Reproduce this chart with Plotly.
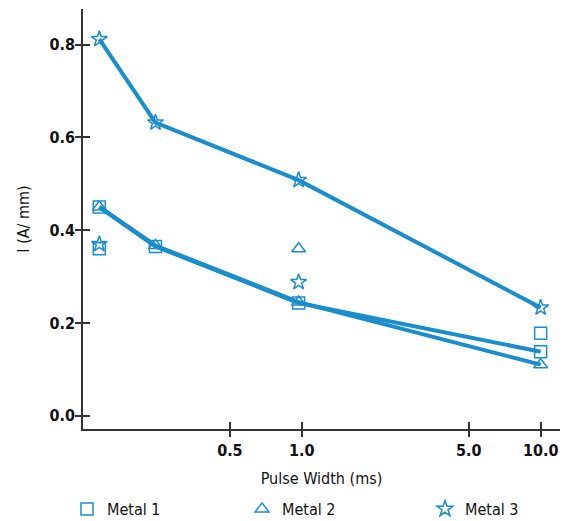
import plotly.graph_objects as go

# Data (pulse width in ms, current in A/mm)
pulse_width = [0.142, 0.244, 0.97, 10.0]
metal1_line = [0.45, 0.365, 0.243, 0.138]
metal2_line = [0.45, 0.367, 0.245, 0.110]
metal3_line = [0.812, 0.632, 0.508, 0.233]

# Extra scattered measurements
metal1_extra_x = [0.142, 10.0]
metal1_extra_y = [0.360, 0.178]
metal2_extra_x = [0.97]
metal2_extra_y = [0.360]
metal3_extra_x = [0.142, 0.97]
metal3_extra_y = [0.370, 0.288]

x_tickvals = [0.5, 1.0, 5.0, 10.0]
x_ticktext = ["0.5", "1.0", "5.0", "10.0"]
y_tickvals = [0.0, 0.2, 0.4, 0.6, 0.8]
y_ticktext = ["0.0", "0.2", "0.4", "0.6", "0.8"]

BLUE = "#1a8dcc"
AXIS = "#333333"
FONT = "DejaVu Sans Condensed, Roboto, sans-serif"

fig = go.Figure()

series = [
    ("Metal 1", metal1_line, metal1_extra_x, metal1_extra_y, "square-open", "legend"),
    ("Metal 2", metal2_line, metal2_extra_x, metal2_extra_y, "triangle-up-open", "legend2"),
    ("Metal 3", metal3_line, metal3_extra_x, metal3_extra_y, "star-open", "legend3"),
]

for name, ys, ex, ey, sym, lg in series:
    fig.add_trace(go.Scatter(
        x=pulse_width, y=ys, mode="lines",
        line=dict(color=BLUE, width=4), showlegend=False, hoverinfo="skip"))

for name, ys, ex, ey, sym, lg in series:
    fig.add_trace(go.Scatter(
        x=pulse_width + ex, y=ys + ey, mode="markers", name=name, legend=lg,
        marker=dict(symbol=sym, size=12, color=BLUE, line=dict(color=BLUE, width=1.5))))

# empty trace to host the overlay axes (inside half of crossing ticks)
fig.add_trace(go.Scatter(x=[], y=[], xaxis="x2", yaxis="y2", showlegend=False))

xr = [-0.916, 1.081]
yr = [-0.0287, 0.877]

def legend_at(px):
    return dict(orientation="h", xref="container", yref="container",
                x=px / 566, xanchor="left", y=(521 - 492) / 521, yanchor="top",
                itemwidth=30, font=dict(family=FONT, size=16, color="#111111"),
                bgcolor="rgba(0,0,0,0)")

fig.update_layout(
    width=566, height=521,
    margin=dict(l=83, r=6, t=9, b=92, autoexpand=False),
    paper_bgcolor="white", plot_bgcolor="white",
    font=dict(family=FONT, size=16, color="#111111"),
    xaxis=dict(type="log", range=xr, tickvals=x_tickvals, ticktext=x_ticktext,
               showgrid=False, zeroline=False, showline=True, linecolor=AXIS, linewidth=1.5,
               ticks="outside", ticklen=6, tickwidth=1.5, tickcolor=AXIS,
               tickfont=dict(family=FONT, size=16, weight="bold"),
               title=dict(text="Pulse Width (ms)", standoff=14,
                          font=dict(family=FONT, size=16))),
    yaxis=dict(range=yr, tickvals=y_tickvals, ticktext=y_ticktext,
               showgrid=False, zeroline=False, showline=True, linecolor=AXIS, linewidth=1.5,
               ticks="outside", ticklen=6, tickwidth=1.5, tickcolor=AXIS,
               ticklabelstandoff=-3,
               tickfont=dict(family=FONT, size=16, weight="bold"),
               title=dict(text="I (A/ mm)", standoff=16,
                          font=dict(family=FONT, size=16))),
    xaxis2=dict(type="log", range=xr, overlaying="x", tickvals=x_tickvals,
                showticklabels=False, showgrid=False, zeroline=False, showline=False,
                ticks="inside", ticklen=7, tickwidth=1.5, tickcolor=AXIS),
    yaxis2=dict(range=yr, overlaying="y", tickvals=y_tickvals,
                showticklabels=False, showgrid=False, zeroline=False, showline=False,
                ticks="inside", ticklen=7, tickwidth=1.5, tickcolor=AXIS),
    legend=legend_at(67),
    legend2=legend_at(242),
    legend3=legend_at(425),
    showlegend=True,
)

fig.write_html("out.html")
